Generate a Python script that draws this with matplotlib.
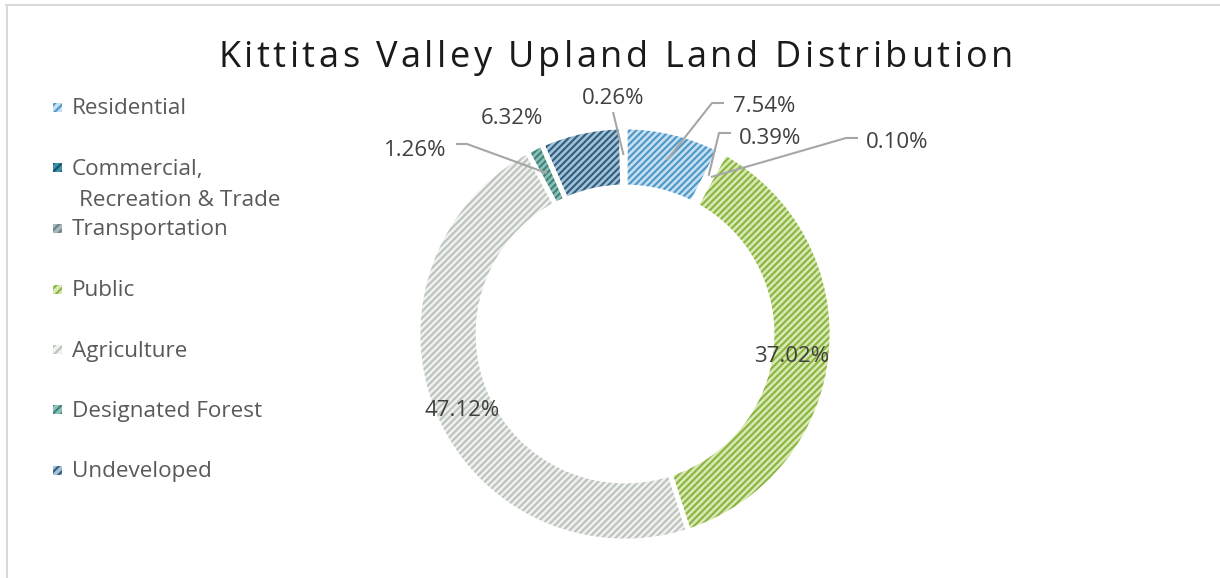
import matplotlib
matplotlib.use("Agg")
import matplotlib.pyplot as plt
import numpy as np
from matplotlib.lines import Line2D
from matplotlib.patches import Rectangle

W, H = 1220, 578

# datos del gráfico
categories = ["Residential", "Commercial,\nRecreation & Trade", "Transportation", "Public",
              "Agriculture", "Designated Forest", "Undeveloped", ""]
shares = [7.54, 0.39, 0.10, 37.02, 47.12, 1.26, 6.32, 0.26]
pct_labels = [f"{v:.2f}%" for v in shares]
title = "Kittitas Valley Upland Land Distribution"

face_colors = ["#C6DFF0", "#3F8FA6", "#A9B7B9", "#D8E8B2", "#EEF1EE", "#8CC0B6", "#A3C0D5", "#FFFFFF"]
hatch_colors = ["#4C97C6", "#14546A", "#6B8285", "#8AB440", "#BCC2BC", "#3F8279", "#2F5F80", "#FFFFFF"]

plt.rcParams["font.family"] = ["Open Sans", "DejaVu Sans"]
plt.rcParams["hatch.linewidth"] = 1.5


def py(y):
    # coordenadas de imagen (y hacia abajo) -> datos (y hacia arriba)
    return H - y


fig = plt.figure(figsize=(W / 100, H / 100), dpi=100)
ax = fig.add_axes([0, 0, 1, 1])

CX, CY, R, RING = 625, py(334), 207, 60

wedges, _ = ax.pie(shares, colors=face_colors, startangle=90, counterclock=False,
                   center=(CX, CY), radius=R, wedgeprops=dict(width=RING, linewidth=0))
for w, hc, lab in zip(wedges, hatch_colors, categories):
    if lab:
        w.set_hatch("/////")
    w.set_edgecolor(hc)
    w.set_linewidth(0)

# separaciones blancas entre porciones
ax.pie(shares, colors=["none"] * len(shares), startangle=90, counterclock=False,
       center=(CX, CY), radius=R, wedgeprops=dict(width=RING, edgecolor="white", linewidth=3.5))

ax.set_xlim(0, W)
ax.set_ylim(0, H)
ax.set_aspect("auto")
ax.axis("off")

# etiquetas de datos
label_pos = [(764, 104), (770, 136), (897, 140), (792, 354), (462, 408), (415, 148), (512, 117), (613, 96)]
leader_pts = [[(712, 103), (724, 103)], [(719, 133), (731, 133)], [(846, 138), (858, 138)], None, None,
              [(467, 144), (456, 144)], None, [(613, 112)]]
for w, txt, (lx, ly), pts in zip(wedges, pct_labels, label_pos, leader_pts):
    ax.text(lx, py(ly + 2), txt, ha="center", va="center", fontsize=16, color="#404040")
    if pts:
        mid = np.deg2rad((w.theta1 + w.theta2) / 2)
        r = R - RING / 2 + 2
        xs = [CX + r * np.cos(mid)] + [p[0] for p in pts]
        ys = [CY + r * np.sin(mid)] + [py(p[1]) for p in pts]
        ax.plot(xs, ys, color="#A6A6A6", lw=1.5, solid_capstyle="butt")

# leyenda
leg_y = [107, 167, 228, 289, 349, 409, 470]
for lab, fc, hc, y in zip(categories, face_colors, hatch_colors, leg_y):
    ax.add_patch(Rectangle((53, py(y) - 4.5), 9, 9, facecolor=fc, edgecolor=hc, hatch="////", linewidth=0))
    for k, line in enumerate(lab.split("\n")):
        ax.text(72 + (7 if k else 0), py(y + 2 + 31 * k), line, ha="left", va="center",
                fontsize=16.2, color="#595959")

# título con espaciado entre letras
renderer = fig.canvas.get_renderer()
tprops = dict(fontsize=26, color="#1A1A1A")


def text_w(s):
    t = fig.text(0, 0, s, **tprops)
    w = t.get_window_extent(renderer).width
    t.remove()
    return w


ref = text_w("l")
offsets = [0.0] + [text_w(title[:i] + "l") - ref for i in range(1, len(title))]
track = (795 - text_w(title)) / (len(title) - 1)
for i, ch in enumerate(title):
    ax.text(218 + offsets[i] + i * track, py(67), ch, ha="left", va="baseline", **tprops)

# marco del área del gráfico
fig.add_artist(Line2D([6 / W, 1], [1 - 4.5 / H] * 2, transform=fig.transFigure, color="#D9D9D9", lw=1.5))
fig.add_artist(Line2D([6.5 / W] * 2, [0, 1 - 4.5 / H], transform=fig.transFigure, color="#D9D9D9", lw=1.5))

fig.savefig("out.png", dpi=100)
